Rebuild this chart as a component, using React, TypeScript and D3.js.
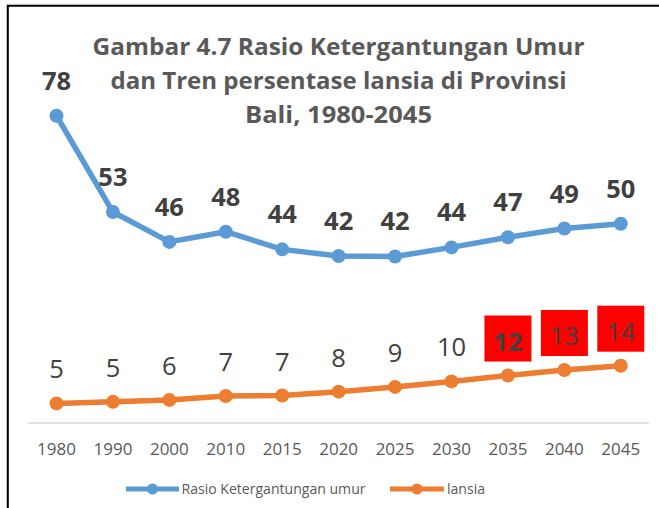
import React from "react";
import * as d3 from "d3";

const years = ["1980", "1990", "2000", "2010", "2015", "2020", "2025", "2030", "2035", "2040", "2045"];
const rasio = [77.8, 53.3, 45.7, 48.3, 43.8, 42.1, 42.0, 44.3, 46.9, 49.1, 50.3];
const lansia = [4.6, 5.0, 5.5, 6.5, 6.6, 7.6, 8.8, 10.2, 11.7, 13.1, 14.2];
const highlighted = ["2035", "2040", "2045"];
const boldHighlight = ["2035"];
const titleLines = [
  "Gambar 4.7 Rasio Ketergantungan Umur",
  "dan Tren persentase lansia di Provinsi",
  "Bali, 1980-2045",
];
const seriesNames = ["Rasio Ketergantungan umur", "lansia"];

const W = 659;
const H = 508;
const BLUE = "#5B9BD5";
const ORANGE = "#ED7D31";
const TXT = "#404040";
const FONT = "'Open Sans', sans-serif";

export default function App() {
  const x = d3.scalePoint<string>().domain(years).range([28.3, 649]).padding(0.5);
  const y = d3.scaleLinear().domain([0, 80]).range([421.5, 107.1]);

  const line = d3
    .line<number>()
    .x((_, i) => x(years[i]) as number)
    .y((v) => y(v));

  const fmt = (v: number) => String(Math.round(v));
  const [r0, r1] = x.range();

  const titleWidths = [492, 456, 187];
  const titleBase = [55, 89, 123];

  return (
    <svg
      width={W}
      height={H}
      style={{ position: "absolute", left: 0, top: 0, background: "#fff" }}
      fontFamily={FONT}
    >
      <rect x={0} y={0} width={W} height={H} fill="#fff" />
      {/* frame */}
      <path d={`M7.8 ${H} V5.8 H${W}`} fill="none" stroke="#000" strokeWidth={2} />
      <path d={`M6.5 ${H} V4.3 H${W}`} fill="none" stroke="#bbb" strokeWidth={0.8} />

      {/* title */}
      {titleLines.map((t, i) => (
        <text
          key={t}
          x={338.5}
          y={titleBase[i]}
          textAnchor="middle"
          fontSize={24}
          fontWeight="bold"
          fill="#595959"
          textLength={titleWidths[i]}
          lengthAdjust="spacingAndGlyphs"
        >
          {t}
        </text>
      ))}

      {/* axis line */}
      <line x1={r0} x2={r1} y1={423} y2={423} stroke="#D9D9D9" strokeWidth={1.5} />
      {years.map((yr) => (
        <text key={yr} x={x(yr)} y={455} textAnchor="middle" fontSize={17} fill="#595959">
          {yr}
        </text>
      ))}

      {/* series lines */}
      <path d={line(rasio) || ""} fill="none" stroke={BLUE} strokeWidth={5.5} strokeLinejoin="round" />
      <path d={line(lansia) || ""} fill="none" stroke={ORANGE} strokeWidth={5.5} strokeLinejoin="round" />
      {rasio.map((v, i) => (
        <circle key={"b" + i} cx={x(years[i])} cy={y(v)} r={7} fill={BLUE} />
      ))}
      {lansia.map((v, i) => (
        <circle key={"o" + i} cx={x(years[i])} cy={y(v)} r={7} fill={ORANGE} />
      ))}

      {/* labels blue */}
      {rasio.map((v, i) => (
        <text
          key={"lb" + i}
          x={x(years[i])}
          y={y(v) - 26}
          textAnchor="middle"
          fontSize={25.5}
          fontWeight="bold"
          fill={TXT}
        >
          {fmt(v)}
        </text>
      ))}

      {/* labels orange */}
      {lansia.map((v, i) => {
        const yr = years[i];
        const cx = x(yr) as number;
        const cy = y(v);
        const hl = highlighted.includes(yr);
        return (
          <g key={"lo" + i}>
            {hl && <rect x={cx - 23.5} y={cy - 60} width={47} height={46} fill="#FF0000" />}
            <text
              x={cx}
              y={cy - 25}
              textAnchor="middle"
              fontSize={25.5}
              fontWeight={boldHighlight.includes(yr) ? "bold" : "normal"}
              fill={TXT}
            >
              {fmt(v)}
            </text>
          </g>
        );
      })}

      {/* legend */}
      <g>
        <line x1={126} x2={179} y1={489} y2={489} stroke={BLUE} strokeWidth={5} />
        <circle cx={152.5} cy={489} r={5.5} fill={BLUE} />
        <text x={181.5} y={494} fontSize={14} fill="#595959" textLength={184} lengthAdjust="spacingAndGlyphs">
          {seriesNames[0]}
        </text>
        <line x1={390} x2={444} y1={489} y2={489} stroke={ORANGE} strokeWidth={5} />
        <circle cx={417} cy={489} r={5.5} fill={ORANGE} />
        <text x={447} y={494} fontSize={14} fill="#595959" textLength={38} lengthAdjust="spacingAndGlyphs">
          {seriesNames[1]}
        </text>
      </g>
    </svg>
  );
}
